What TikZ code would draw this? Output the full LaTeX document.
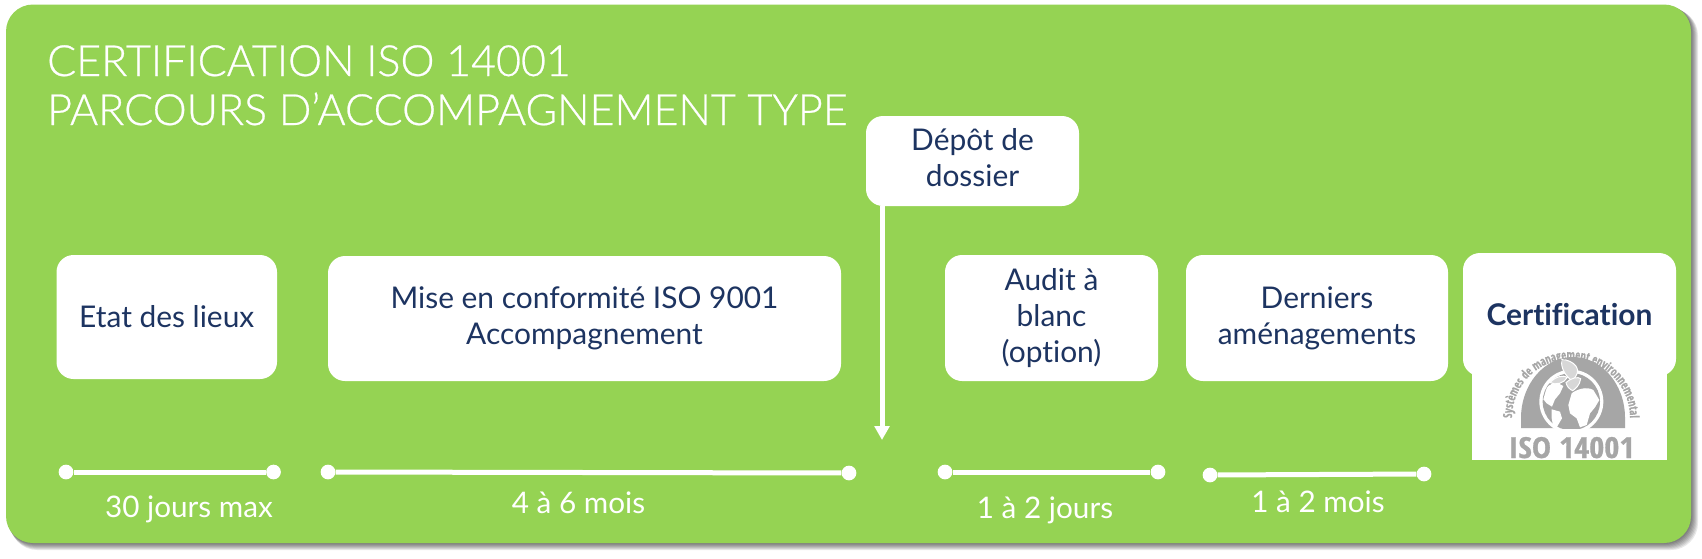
\documentclass[tikz,border=0pt]{standalone}
\usepackage{fontspec}
\usetikzlibrary{arrows.meta,decorations.text,calc}
\setmainfont{Lato}[Ligatures=NoCommon]
\newfontfamily\titlefont{Lato Light}[FakeBold=0.6]
\newfontfamily\logoarc{Open Sans Condensed Bold}[FakeStretch=0.86,FakeBold=0.5]
\newfontfamily\logoiso{Open Sans Condensed Bold}[FakeStretch=1.12,FakeBold=1]
\definecolor{leaf}{HTML}{95D353}
\definecolor{navy}{HTML}{1D3461}
\definecolor{logog}{HTML}{A6A6A6}
\tikzset{
  stepbox/.style={fill=white,rounded corners=17pt,text=navy,align=center,font=\fontsize{29.9}{36}\selectfont,inner sep=0pt},
  bar/.style={draw=white,line width=5pt},
  pin/.style={circle,fill=white,minimum size=14.7pt,inner sep=0pt},
  span/.style={text=white,font=\fontsize{29.7}{32}\selectfont,inner sep=0pt,anchor=center},
  headline/.style={anchor=base west,text=white,inner sep=0pt,font=\titlefont\fontsize{43}{43}\selectfont},
  leafshape/.style={fill=logog!45,draw=white,line width=1pt},
}
\newcommand{\stepnode}[6]{\node[stepbox,minimum width=#4pt-#3pt,minimum height=#6pt-#5pt] (#1) at ({(#3+#4)/2},{(#5+#6)/2}) {#2};}
\begin{document}
\begin{tikzpicture}[x=1pt,y=-1pt]
\useasboundingbox (0,0) rectangle (1702,558);
\fill[white] (0,0) rectangle (1702,558);
\foreach \o in {1,2,...,7}{
  \fill[black,opacity=0.09,rounded corners=27pt] (6+\o*0.6,4.5+\o*0.6) rectangle (1691+\o,543+\o);
}
\fill[leaf,rounded corners=27pt] (6,4.5) rectangle (1691,543);
\node[headline] (t1) at (47,76) {CERTIFICATION ISO 14001};
\node[headline] (t2) at (47,125) {PARCOURS D’ACCOMPAGNEMENT TYPE};
\stepnode{etat}{\raisebox{2pt}{Etat des lieux}}{56.5}{277}{255}{379}
\stepnode{mise}{Mise en conformité ISO 9001\\Accompagnement}{328}{841}{256}{381}
\stepnode{depot}{\raisebox{2pt}{\begin{tabular}{@{}c@{}}Dépôt de\\dossier\end{tabular}}}{866}{1079}{116}{206}
\stepnode{audit}{Audit à\\blanc\\(option)}{945}{1158}{255}{381}
\stepnode{dern}{Derniers\\aménagements}{1186}{1448}{255}{381}
% logo plate
\fill[white] (1472,340) rectangle (1667,460);
\stepnode{cert}{\bfseries Certification}{1463}{1676}{253}{376}
% logo drawing
\fill[logog] (1521,428) -- (1521,418) arc[start angle=180,end angle=360,x radius=52,y radius=61] -- (1625,428) -- cycle;
\begin{scope}[shift={(1530,350)},x=0.3333pt,y=-0.3333pt]
  \begin{scope}
    \clip (-60,-20) rectangle (320,235);
    \fill[white] (124,155) circle[radius=96];
    \fill[logog] (124,155) circle[radius=86];
  \end{scope}
  \fill[white] (48,120) .. controls (55,100) and (75,92) .. (100,108) -- (90,130) -- (75,148) -- (66,170) -- (50,160) -- (40,148) -- cycle;
  \fill[white] (65,178) -- (90,185) -- (96,205) -- (80,232) -- (70,232) -- (65,205) -- cycle;
  \fill[white] (115,165) -- (125,130) .. controls (140,118) and (170,108) .. (190,120) -- (208,150) -- (195,172) -- (180,190) -- (170,225) -- (150,232) -- (140,205) -- (120,190) -- cycle;
  \fill[leafshape] (95,28) .. controls (130,30) and (165,60) .. (125,92) .. controls (105,75) and (92,55) .. (95,28) -- cycle;
  \fill[leafshape] (108,98) .. controls (125,82) and (145,80) .. (152,86) .. controls (150,105) and (135,118) .. (128,122) .. controls (118,118) and (110,108) .. (108,98) -- cycle;
  \fill[leafshape] (60,98) .. controls (75,80) and (100,74) .. (112,82) .. controls (102,100) and (78,106) .. (60,98) -- cycle;
\end{scope}
\path[postaction={decorate,decoration={text along path,text align=center,text={|\logoarc\fontsize{12.5}{13}\selectfont\color{logog}|Systèmes de management environnemental}}}] (1512,418) arc[start angle=180,end angle=360,radius=59];
\node[text=logog,font=\logoiso\fontsize{29}{29}\selectfont,inner sep=0pt,anchor=base] (iso) at (1571.5,458) {ISO 14001};
% arrow
\coordinate (tip) at (882,440);
\draw[white,line width=5pt,-{Triangle[length=14pt,width=14.7pt]}] (depot.south -| tip) -- (tip);
% spans
\node[pin] (a1) at (66,472) {}; \node[pin] (a2) at (273.5,472) {}; \draw[bar] (a1) -- (a2);
\node[pin] (b1) at (328,472) {}; \node[pin] (b2) at (849,473) {}; \draw[bar] (b1) -- (b2);
\node[pin] (c1) at (945,472) {}; \node[pin] (c2) at (1158,472) {}; \draw[bar] (c1) -- (c2);
\node[pin] (d1) at (1210,475) {}; \node[pin] (d2) at (1424,474) {}; \draw[bar] (d1) -- (d2);
\node[span] (la) at (189,509) {30 jours max};
\node[span] (lb) at (578.5,503) {4 à 6 mois};
\node[span] (lc2) at (1045,510) {1 à 2 jours};
\node[span] (ld) at (1318,502) {1 à 2 mois};
\end{tikzpicture}
\end{document}
